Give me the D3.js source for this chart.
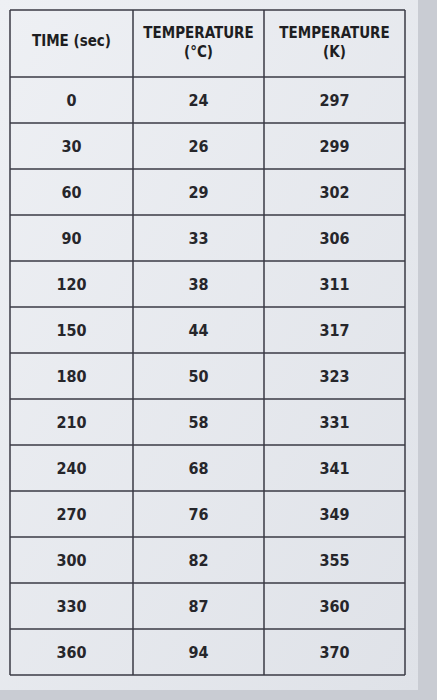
<!DOCTYPE html>
<html><head><meta charset="utf-8">
<script src="https://cdn.jsdelivr.net/npm/d3@7/dist/d3.min.js"></script>
<style>body{margin:0;background:#cfd3da;}</style></head>
<body><svg id="c" width="437" height="700"></svg>
<script>
const headers = [["TIME (sec)"], ["TEMPERATURE", "(°C)"], ["TEMPERATURE", "(K)"]];
const times = [0, 30, 60, 90, 120, 150, 180, 210, 240, 270, 300, 330, 360];
const celsius = [24, 26, 29, 33, 38, 44, 50, 58, 68, 76, 82, 87, 94];
const kelvin = [297, 299, 302, 306, 311, 317, 323, 331, 341, 349, 355, 360, 370];

(function(){
const svg = d3.select("#c");
const bg = svg.append("defs").append("linearGradient").attr("id","g").attr("x1",0).attr("x2",1).attr("y1",0).attr("y2",1);
bg.append("stop").attr("offset","0").attr("stop-color","#eef0f4");
bg.append("stop").attr("offset","1").attr("stop-color","#dfe2e8");
svg.append("rect").attr("width",437).attr("height",700).attr("fill","#c9ccd3");
svg.append("rect").attr("x",0).attr("y",0).attr("width",418).attr("height",690).attr("fill","url(#g)");

const colEdges = [10, 133, 264, 405];
const tTop = 10, headH = 67, bottom = 675;
const y = d3.scaleBand().domain(times.map(String)).range([tTop + headH, bottom]);
const cols = [times, celsius, kelvin];
const cx = i => (colEdges[i] + colEdges[i+1]) / 2;
const font = "'DejaVu Sans Condensed','DejaVu Sans',sans-serif";

headers.forEach((h, i) => {
  const t = svg.append("text").attr("text-anchor","middle")
    .attr("font-family", font).attr("font-weight","bold").attr("font-size",15).attr("fill","#1e1e22");
  if (h.length === 1) t.append("tspan").attr("x",cx(i)).attr("y",tTop+headH/2+2).text(h[0]);
  else { t.append("tspan").attr("x",cx(i)).attr("y",tTop+28).text(h[0]);
         t.append("tspan").attr("x",cx(i)).attr("y",tTop+47).text(h[1]); }
});
cols.forEach((arr, i) => {
  svg.selectAll(null).data(arr).enter().append("text")
    .attr("x", cx(i)).attr("y", (d, j) => y(String(times[j])) + y.bandwidth()/2 + 6)
    .attr("text-anchor","middle").attr("font-family", font).attr("font-weight","bold")
    .attr("font-size",16).attr("fill","#26262b").text(d => d);
});
const stroke = "#3a3a44";
colEdges.forEach(x => svg.append("line").attr("x1",x).attr("x2",x).attr("y1",tTop).attr("y2",bottom).attr("stroke",stroke).attr("stroke-width",1.5));
[tTop, ...times.map(t => y(String(t))), bottom].forEach(yy =>
  svg.append("line").attr("x1",colEdges[0]).attr("x2",colEdges[3]).attr("y1",yy).attr("y2",yy).attr("stroke",stroke).attr("stroke-width",1.5));
})();
</script></body></html>
